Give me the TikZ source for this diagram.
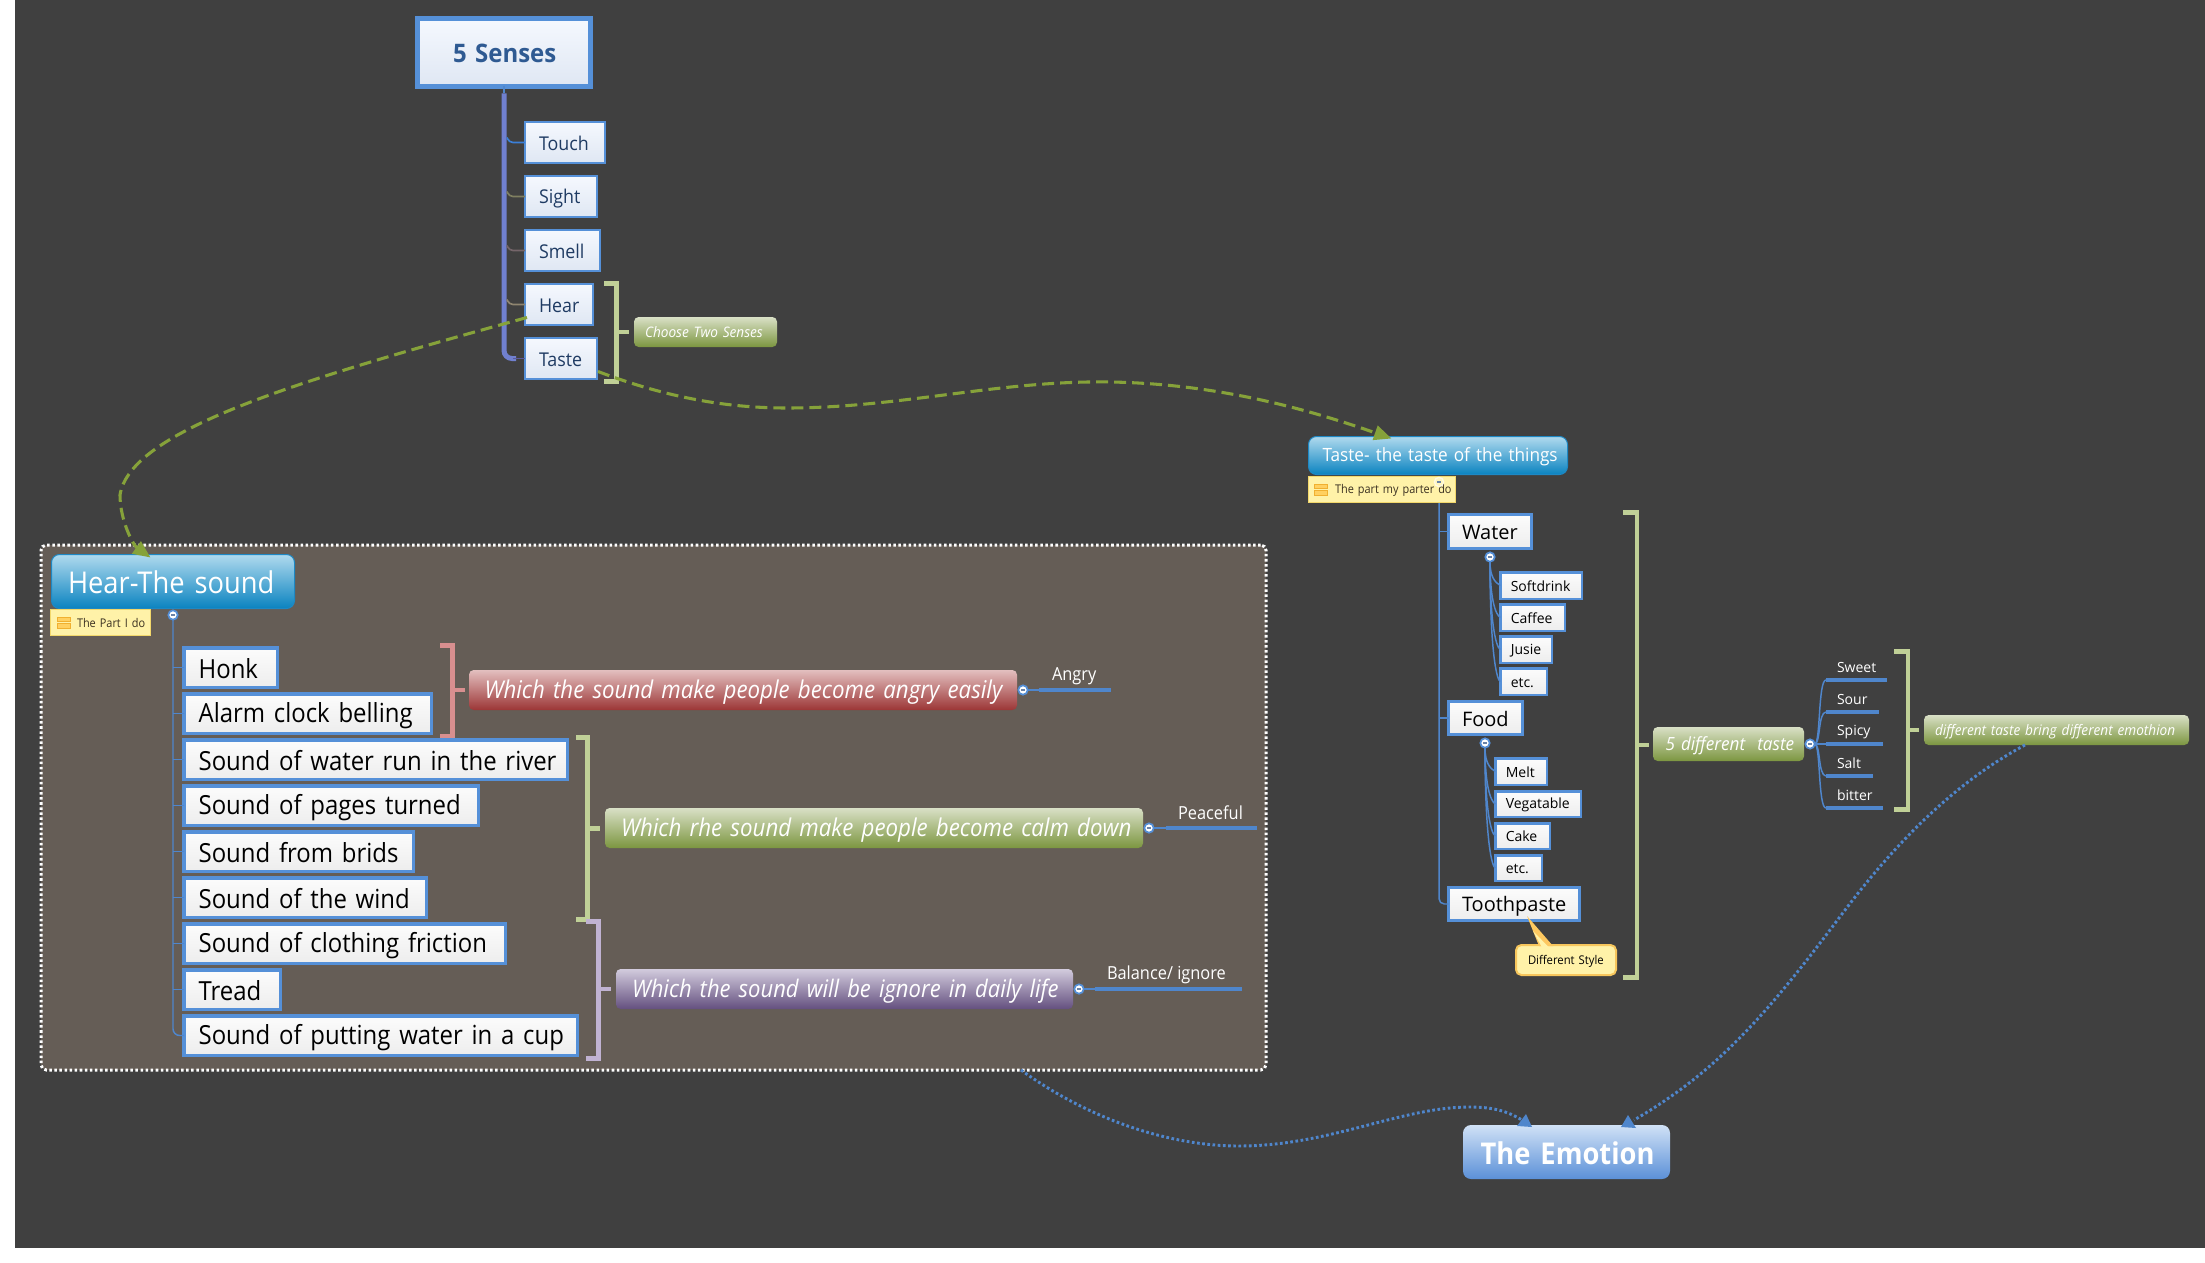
\documentclass[tikz,border=0pt]{standalone}
\usepackage{fontspec}
\usetikzlibrary{calc,arrows.meta}
\setmainfont{Open Sans}
\newfontfamily\fnarrow{Open Sans}[FakeStretch=.91]
\newfontfamily\fmid{Open Sans}[FakeStretch=.94]
\newcommand{\pxs}[1]{\fontsize{\the\dimexpr#1pt*3/4\relax}{\the\dimexpr#1pt*6/5\relax}\selectfont}
\newcommand{\vfix}{\rule[-.12em]{0pt}{1.06em}}
\definecolor{bgdark}{HTML}{404040}
\definecolor{panel}{HTML}{655D56}
\definecolor{boxblue}{HTML}{5590D8}
\definecolor{linkblue}{HTML}{4F86CC}
\definecolor{bgreen}{HTML}{C0D097}
\definecolor{bred}{HTML}{D88F8F}
\definecolor{bpurple}{HTML}{C0B2D2}
\definecolor{lgreen}{HTML}{86A23A}
\definecolor{spinec}{HTML}{7080D0}
\definecolor{notefill}{HTML}{FFF2A8}
\definecolor{notedraw}{HTML}{F3D86B}
\definecolor{calldraw}{HTML}{F7C65C}
\definecolor{F5F8FE}{HTML}{F5F8FE}\definecolor{DFE7F3}{HTML}{DFE7F3}
\definecolor{FCFCFC}{HTML}{FCFCFC}\definecolor{EDEDED}{HTML}{EDEDED}
\definecolor{B0DAEE}{HTML}{B0DAEE}\definecolor{0A83C0}{HTML}{0A83C0}
\definecolor{D9E0C6}{HTML}{D9E0C6}\definecolor{7C9640}{HTML}{7C9640}
\definecolor{E3BFBF}{HTML}{E3BFBF}\definecolor{9C3636}{HTML}{9C3636}
\definecolor{D2CBDD}{HTML}{D2CBDD}\definecolor{64507F}{HTML}{64507F}
\definecolor{D0E1F6}{HTML}{D0E1F6}\definecolor{5B90D8}{HTML}{5B90D8}
\definecolor{RootTxt}{HTML}{2F5A92}\definecolor{SenseTxt}{HTML}{1F3B63}
\definecolor{TopicEdge}{HTML}{1E88C4}\definecolor{NoteTxt}{HTML}{3A3020}
\definecolor{MinusC}{HTML}{6A83A8}
\definecolor{5A5A9A}{HTML}{5A5A9A}
\definecolor{FFD060}{HTML}{FFD060}\definecolor{F0B030}{HTML}{F0B030}
\definecolor{FDC860}{HTML}{FDC860}
\tikzset{
  x=.75pt,y=-.75pt,
  base/.style={inner sep=0pt,outer sep=0pt,align=left},
  rootbox/.style={base,draw=boxblue,top color=F5F8FE,bottom color=DFE7F3,text=RootTxt,font=\fmid\pxs{25.5}\bfseries},
  sensebox/.style={base,draw=boxblue,top color=F5F8FE,bottom color=DFE7F3,text=SenseTxt,font=\fmid\pxs{19}},
  itembox/.style={base,draw=boxblue,top color=FCFCFC,bottom color=EDEDED,text=black,font=\fnarrow\pxs{26.3}},
  midbox/.style={base,draw=boxblue,top color=FCFCFC,bottom color=EDEDED,text=black,font=\pxs{20}},
  smallbox/.style={base,draw=boxblue,top color=FCFCFC,bottom color=EDEDED,text=black,font=\pxs{14}},
  topicbox/.style={base,draw=TopicEdge,top color=B0DAEE,bottom color=0A83C0,rounded corners=6pt,text=white},
  greenbox/.style={base,top color=D9E0C6,bottom color=7C9640,rounded corners=3.5pt,text=white},
  redbox/.style={base,top color=E3BFBF,bottom color=9C3636,rounded corners=3.5pt,text=white},
  purplebox/.style={base,top color=D2CBDD,bottom color=64507F,rounded corners=3.5pt,text=white},
  emotionbox/.style={base,top color=D0E1F6,bottom color=5B90D8,rounded corners=6pt,text=white,font=\fnarrow\pxs{30}\bfseries},
  notebox/.style={base,draw=notedraw,fill=notefill,text=NoteTxt,font=\fnarrow\pxs{12}},
  callbox/.style={base,draw=calldraw,fill=notefill,rounded corners=4pt,text=black,font=\fmid\pxs{12}},
  circ/.style={circle,draw=boxblue,fill=white,line width=1.3pt,minimum size=7pt,inner sep=0pt,outer sep=0pt},
  circdim/.style={circle,draw=white,draw opacity=.6,fill=white,fill opacity=.25,line width=1pt,minimum size=7pt,inner sep=0pt,outer sep=0pt},
  minus/.style={draw=MinusC,line width=1.1pt,shorten >=1.9pt,shorten <=1.9pt},
  link/.style={draw=linkblue,line width=1.1pt},
  rule/.style={draw=linkblue,line width=2.4pt},
  thinlink/.style={draw=linkblue,line width=.9pt},
  spineline/.style={draw=spinec,line width=3.75pt},
  brk/.style={line width=3.4pt,line cap=butt,line join=miter},
  gdash/.style={draw=lgreen,line width=2.3pt,dash pattern=on 9pt off 4.5pt},
  bdot/.style={draw=linkblue,line width=2.2pt,dash pattern=on 2pt off 1.9pt},
  lbl/.style={inner sep=0pt,outer sep=0pt,text=white,anchor=west},
  tri/.style={fill=linkblue,draw=none}
}
% name, style, line width px, text inset px, x1,y1,x2,y2 (outer edges in px), text
\newcommand{\bx}[8]{\bxb{#1}{#2}{#3}{#4}{#5}{#6}{#7}{#8}}
\newcommand{\bxb}[8]{%
  \pgfmathsetmacro\bxx{(#5+#7)/2}\pgfmathsetmacro\bxy{(#6+#8)/2}%
  \pgfmathsetmacro\bxw{(#7-#5-#3)*.75}\pgfmathsetmacro\bxh{(#8-#6-#3)*.75}%
  \pgfmathsetmacro\bxl{#3*.75}\pgfmathsetmacro\bxi{#4*.75}%
  \bxc{#1}{#2}}
\newcommand{\bxc}[3]{%
  \node[#2,line width=\bxl pt,text width=\bxw pt,minimum height=\bxh pt] (#1) at (\bxx,\bxy) {\hspace*{\bxi pt}\mbox{\vfix#3}};}
% x left, x right, y top, y bottom (outer), stem y, stem end x, colour
\newcommand{\brkt}[7]{%
  \draw[brk,draw=#7] (#1,{#3+2.25}) -- ({#2-2.25},{#3+2.25}) -- ({#2-2.25},{#4-2.25}) -- (#1,{#4-2.25});
  \draw[brk,draw=#7] ({#2-2.25},#5) -- (#6,#5);}
\newcommand{\subl}[2]{\draw[link] (#1.south) .. controls ($(#1.south)!.65!(#1.south|-#2.west)$) and ($(#2.west)+(-5,-3)$) .. (#2.west);}
\begin{document}
\begin{tikzpicture}
\useasboundingbox (0,0) rectangle (2205,1263);
\fill[white] (0,0) rectangle (2205,1263);
\fill[bgdark] (15,0) rectangle (2205,1248);
% panel
\node[draw=white,fill=panel,line width=2.25pt,dash pattern=on 1.9pt off 1.9pt,rounded corners=4pt,minimum width=918.75pt,minimum height=393.75pt,inner sep=0pt,outer sep=0pt] (panelbox) at (653.5,807.5) {};
% brackets
\brkt{604}{619}{281}{384}{332}{629}{bgreen}
\brkt{440}{455}{643}{739}{690}{465}{bred}
\brkt{576}{590}{735}{922}{828.5}{600}{bgreen}
\brkt{586}{601}{919}{1061}{989}{611}{bpurple}
\brkt{1623}{1639}{510}{980}{745}{1649}{bgreen}
\brkt{1894}{1910}{649}{812}{730}{1919}{bgreen}
% 5 senses
\bx{root}{rootbox}{5}{35.5}{415}{16}{593}{89}{5 Senses}
\bx{touch}{sensebox}{2}{14}{524}{121}{606}{164}{Touch}
\bx{sight}{sensebox}{2}{14}{524}{175}{598}{218}{Sight}
\bx{smell}{sensebox}{2}{14}{524}{229}{601}{272}{Smell}
\bx{hear}{sensebox}{2}{14}{524}{283}{594}{326}{Hear}
\bx{taste}{sensebox}{2}{14}{524}{337}{598}{380}{Taste}
\coordinate (s0) at ($(root.south)+(0,7)$);
\draw[draw=linkblue,line width=1.2pt] (root.south) -- (s0);
\draw[spineline,rounded corners=6pt] (s0) |- ($(taste.west)+(-9,0)$);
\draw[draw=5A5A9A,line width=1.3pt] ($(taste.west)+(-12,0)$) -- (taste.west);
\foreach \n/\cc in {touch/3B7FD8,sight/7F7F60,smell/75656A,hear/8F8570}{
  \definecolor{tmpc}{HTML}{\cc}
  \draw[draw=tmpc,line width=1.3pt,rounded corners=3pt] ($(\n.west)+(-18,-5)$) -- ($(\n.west)+(-16,0)$) -- (\n.west);
}
\bx{choose}{greenbox,font=\fmid\itshape\pxs{14.5}}{0}{11}{634}{317}{777}{347}{Choose Two Senses}
% Hear topic
\bx{hearT}{topicbox,font=\fnarrow\pxs{30}}{1}{16.5}{51}{554}{295}{609}{Hear-The sound}
\bx{hearN}{notebox}{1}{26.5}{50}{609}{151}{636}{The Part I do}
\path[fill=FFD060,draw=F0B030,line width=.5pt] ($(hearN.west)+(7,-5.5)$) rectangle +(13,4.5);
\path[fill=FFD060,draw=F0B030,line width=.5pt] ($(hearN.west)+(7,1)$) rectangle +(13,4.5);
\foreach \nm/\ya/\xb/\tx in {honk/646/279/Honk,alarm/692/433/Alarm clock belling,river/738/569/Sound of water run in the river,pages/784/480/Sound of pages turned,brids/830/415/Sound from brids,wind/876/428/Sound of the wind,cloth/922/507/Sound of clothing friction,tread/968/282/Tread,cup/1014/579/Sound of putting water in a cup}{
  \pgfmathsetmacro\yb{\ya+43}
  \bx{\nm}{itembox}{3.5}{14.5}{182.4}{\ya}{\xb}{\yb}{\tx}
}
\node[circ] (cH) at (173,615) {};
\draw[link,rounded corners=5pt] (cH.south) |- (cup.west);
\foreach \n in {honk,alarm,river,pages,brids,wind,cloth,tread}{\draw[thinlink] (\n.west) -- (cH.south|-\n.west);}
\draw[minus] (cH.west) -- (cH.east);
% which boxes
\bx{wred}{redbox,font=\fnarrow\itshape\pxs{24.5}}{0}{15.5}{469}{670}{1017}{710}{Which the sound make people become angry easily}
\bx{wgreen}{greenbox,font=\fnarrow\itshape\pxs{24.5}}{0}{16}{605}{808}{1143}{848}{Which rhe sound make people become calm down}
\bx{wpurple}{purplebox,font=\fnarrow\itshape\pxs{24.2}}{0}{16}{616}{969}{1073}{1009}{Which the sound will be ignore in daily life}
\node[circ] (d1) at (1023,690) {};
\node[circ] (d2) at (1149,828) {};
\node[circ] (d3) at (1079,989) {};
\coordinate (r1a) at (1039,690);\coordinate (r1b) at (1111,690);
\coordinate (r2a) at (1166,828);\coordinate (r2b) at (1257,828);
\coordinate (r3a) at (1095,989);\coordinate (r3b) at (1242,989);
\draw[thinlink] (d1) -- (r1a); \draw[rule] (r1a) -- (r1b);
\draw[thinlink] (d2) -- (r2a); \draw[rule] (r2a) -- (r2b);
\draw[thinlink] (d3) -- (r3a); \draw[rule] (r3a) -- (r3b);
\foreach \d in {d1,d2,d3}{\draw[minus] (\d.west) -- (\d.east);}
\node[lbl,font=\fnarrow\pxs{18}] (l1) at (1052,674) {\vfix Angry};
\node[lbl,font=\fnarrow\pxs{18}] (l2) at (1178,812) {\vfix Peaceful};
\node[lbl,font=\fnarrow\pxs{18}] (l3) at (1107,973) {\vfix Balance/ ignore};
% Taste topic
\bx{tasteT}{topicbox,font=\fmid\pxs{18.3}}{1}{14}{1308}{436}{1568}{475}{Taste- the taste of the things}
\bx{tasteN}{notebox}{1}{26.5}{1308}{476}{1456}{503}{The part my parter do}
\path[fill=FFD060,draw=F0B030,line width=.5pt] ($(tasteN.west)+(6,-5.5)$) rectangle +(13,4.5);
\path[fill=FFD060,draw=F0B030,line width=.5pt] ($(tasteN.west)+(6,1)$) rectangle +(13,4.5);
\bx{water}{midbox}{3}{13.5}{1447}{513}{1533}{550}{Water}
\bx{food}{midbox}{3}{13.5}{1447}{700}{1524}{736}{Food}
\bx{tooth}{midbox}{3}{13.5}{1447}{886}{1581}{922}{Toothpaste}
\node[circdim] (cT) at (1439,482) {};
\coordinate (cTb) at (1439,503);
\draw[link,rounded corners=4pt] (cTb) |- (tooth.west);
\foreach \n in {water,food}{\draw[thinlink] (\n.west) -- (cTb|-\n.west);}
\draw[minus] (cT.west) -- (cT.east);
\node[circ] (cW) at (1490,557) {};
\node[circ] (cF) at (1485,743) {};
\bx{soft}{smallbox}{2.5}{10.5}{1499}{571}{1583}{600}{Softdrink}
\bx{caff}{smallbox}{2.5}{10.5}{1499}{603}{1566}{632}{Caffee}
\bx{jusie}{smallbox}{2.5}{10.5}{1499}{635}{1553}{664}{Jusie}
\bx{etcA}{smallbox}{2.5}{10.5}{1499}{667}{1548}{696}{etc.}
\bx{melt}{smallbox}{2.5}{10.5}{1494}{757}{1548}{786}{Melt}
\bx{vega}{smallbox}{2.5}{10.5}{1494}{790}{1582}{818}{Vegatable}
\bx{cake}{smallbox}{2.5}{10.5}{1494}{822}{1551}{850}{Cake}
\bx{etcB}{smallbox}{2.5}{10.5}{1494}{854}{1543}{882}{etc.}
\foreach \n in {soft,caff,jusie,etcA}{\subl{cW}{\n}}
\foreach \n in {melt,vega,cake,etcB}{\subl{cF}{\n}}
\foreach \d in {cW,cF}{\draw[minus] (\d.west) -- (\d.east);}
% callout
\coordinate (tailtip) at (1527,916);
\bx{callout}{callbox}{2}{12}{1515}{944}{1617}{976}{Different Style}
\fill[fill=FDC860] (tailtip) -- ($(callout.north west)+(23,1)$) -- ($(callout.north west)+(37,1)$) -- cycle;
\fill[fill=notefill] ($(tailtip)+(6,15)$) -- ($(callout.north west)+(26,2.5)$) -- ($(callout.north west)+(33,2.5)$) -- cycle;
% 5 different
\bx{five}{greenbox,font=\fmid\itshape\pxs{18.2}}{0}{12.5}{1653}{727}{1804}{761}{5 different\ \ taste}
\node[circ] (cV) at (1810,744) {};
\bx{dtaste}{greenbox,font=\fmid\itshape\pxs{14.5}}{0}{11}{1924}{715}{2189}{745}{different taste bring different emothion}
\foreach \n/\yy/\xe/\tx in {sw/680/1887/Sweet,so/712/1879/Sour,sp/744/1883/Spicy,sa/776/1873/Salt,bi/808/1883/bitter}{
  \coordinate (\n a) at (1826,\yy);
  \coordinate (\n b) at (\xe,\yy);
  \draw[rule] (\n a) -- (\n b);
  \draw[link] (cV.east) .. controls ($(cV.east)+(6,0)$) and ($(\n a)+(-8,0)$) .. (\n a);
  \node[lbl,font=\pxs{14}] (\n t) at (1837,{\yy-13}) {\vfix\tx};
}
\draw[minus] (cV.west) -- (cV.east);
% Emotion
\bx{emotion}{emotionbox}{0}{17.6}{1463}{1125}{1670}{1179}{The Emotion}
% links
\coordinate (g1s) at ($(hear.west)+(2,13)$);
\coordinate (g1e) at ($(hearT.north west)+(99,3)$);
\draw[gdash,-{Triangle[length=13pt,width=11pt,fill=lgreen]}] (g1s) .. controls (300,380) and (130,430) .. (120,495) .. controls (120,520) and (133,545) .. (g1e);
\coordinate (g2s) at ($(taste.east)+(1,13)$);
\coordinate (g2e) at ($(tasteT.north west)+(83,2)$);
\draw[gdash,-{Triangle[length=13pt,width=11pt,fill=lgreen]}] (g2s) .. controls (660,395) and (720,408) .. (787,408) .. controls (900,408) and (1000,380) .. (1111,382) .. controls (1220,384) and (1310,410) .. (g2e);
\coordinate (b1s) at (1021,1070);
\coordinate (b1e) at ($(emotion.north west)+(62,-3)$);
\draw[bdot] (b1s) .. controls (1090,1120) and (1170,1146) .. (1239,1146) .. controls (1330,1146) and (1400,1107) .. (1470,1107) .. controls (1495,1107) and (1510,1112) .. (b1e);
\fill[tri] ($(b1e)+(1,-8)$) -- ($(b1e)+(-8,4)$) -- ($(b1e)+(7,5)$) -- cycle;
\coordinate (b2s) at ($(dtaste.south west)+(101,0)$);
\coordinate (b2e) at ($(emotion.north west)+(171,-5)$);
\draw[bdot] (b2s) .. controls (1950,785) and (1890,850) .. (1842,914) .. controls (1770,1010) and (1720,1070) .. (b2e);
\fill[tri] ($(emotion.north west)+(165,-10)$) -- ($(emotion.north west)+(158,2)$) -- ($(emotion.north west)+(173,3)$) -- cycle;
\end{tikzpicture}
\end{document}
